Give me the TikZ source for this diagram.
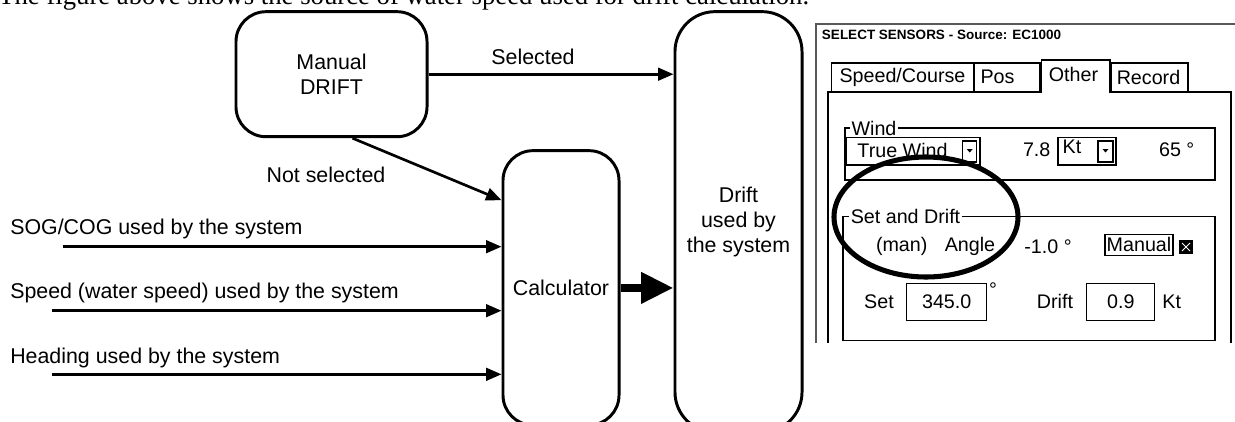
\documentclass[tikz,border=0pt]{standalone}
\usepackage{fontspec}
\setmainfont{Liberation Sans}
\newfontfamily\pagefont{Liberation Serif}
\usetikzlibrary{arrows.meta,positioning,calc}

\begin{document}
\begin{tikzpicture}[
    x=0.025cm,y=-0.025cm,font=\fontsize{15.2}{17.8}\selectfont,
    proc/.style={draw,line width=2.1pt,align=center,inner sep=0pt},
    arrow/.style={-{Triangle[length=11pt,width=9pt]},line width=1.9pt},
    bigarrow/.style={-{Triangle[length=23pt,width=21pt]},line width=5.7pt},
    lbl/.style={inner sep=0pt,anchor=west},
    gui/.style={inner sep=0pt,font=\fontsize{14}{16}\selectfont},
    ctl/.style={draw,line width=0.8pt},
    win/.style={draw=black!65,line width=1pt},
    hilite/.style={draw,line width=3.6pt}
  ]
    \useasboundingbox (0,0) rectangle (1235,421);

    \node[anchor=base west,inner sep=0pt,font=\pagefont\fontsize{19}{22}\selectfont] (caption) at (-2,5)
      {The figure above shows the source of water speed used for drift calculation.};

    \node[proc,rounded corners=0.75cm,minimum width=4.775cm,minimum height=3.125cm] (manual) at (331.5,74.2) {Manual\\DRIFT};
    \node[proc,rounded corners=0.75cm,minimum width=2.9cm,minimum height=6.86cm] (calc) at (561,287.9) {Calculator};
    \node[proc,rounded corners=1cm,minimum width=3.175cm,minimum height=10.51cm] (drift) at (738.5,221.9) {Drift\\used by\\the system};

    \node[inner sep=0pt] (sel) at (533,57.3) {Selected};
    \node[inner sep=0pt] (notsel) at (326,175) {Not selected};
    \node[lbl] (soglbl) at (10,229) {SOG/COG used by the system};
    \node[lbl] (spdlbl) at (10,293) {Speed (water speed) used by the system};
    \node[lbl] (hdglbl) at (10,358) {Heading used by the system};
    \coordinate (sog) at (63.3,246.7);
    \coordinate (spd) at (51.7,310.7);
    \coordinate (hdg) at (51.7,374.3);

    \draw[arrow] (manual.east) -- (manual.east -| drift.west);
    \draw[arrow] ($(manual.south)+(21,0)$) -- ($(calc.north west)+(0,51)$);
    \draw[arrow] (sog) -- (sog -| calc.west);
    \draw[arrow] (spd) -- (spd -| calc.west);
    \draw[arrow] (hdg) -- (hdg -| calc.west);
    \draw[bigarrow] (calc.east) -- (calc.east -| drift.west);

    \node[anchor=west,inner sep=0pt,font=\bfseries\fontsize{9.6}{11}\selectfont] (title) at (821.7,35) {SELECT SENSORS - Source: EC1000};
    \draw[win] (816,343) -- (816,24) -- (1240,24);
    \draw[ctl] (828,343) -- (828,92) -- (1041.7,92) -- (1041.7,60) -- (1110,60) -- (1110,92) -- (1231,92) -- (1231,343);
    \draw[ctl] (831.7,92) -- (831.7,63) -- (974,63) -- (974,92);
    \draw[ctl] (974,63) -- (1040,63) -- (1040,92);
    \draw[ctl] (1111,92) -- (1111,63) -- (1188,63) -- (1188,92);
    \node[gui] (tabspeed) at (902.5,77.3) {Speed/Course};
    \node[gui] (tabpos) at (997.5,77.3) {Pos};
    \node[gui] (tabother) at (1073.5,74) {Other};
    \node[gui] (tabrecord) at (1148.5,77.3) {Record};

    \draw[ctl] (845,128) rectangle (1215,180);
    \node[gui,fill=white,inner sep=1pt] (windlbl) at (874,128) {Wind};
    \draw[ctl] (846.7,137.3) rectangle (980,165);
    \draw[ctl] (962.7,141) rectangle (976.7,162);
    \fill (966.7,149) -- (972.7,149) -- (969.7,152.5) -- cycle;
    \node[gui] (windsrc) at (902.5,150) {True Wind};
    \node[gui] (windspd) at (1036.7,150) {7.8};
    \draw[ctl] (1058,137.3) rectangle (1116,165);
    \draw[ctl] (1098,141) rectangle (1113,162);
    \fill (1102.5,149) -- (1108.5,149) -- (1105.5,152.5) -- cycle;
    \node[gui] (windunit) at (1072,147) {Kt};
    \node[gui] (winddir) at (1176.7,150) {65 °};

    \draw[ctl] (843,216.7) rectangle (1215,340.7);
    \node[gui,fill=white,inner sep=1pt] (setlbl) at (905.5,216.7) {Set and Drift};
    \node[gui] (man) at (901.7,246.7) {(man)};
    \node[gui] (angle) at (970,246.7) {Angle};
    \node[gui] (angleval) at (1048,246.7) {-1.0 °};
    \node[gui,ctl,minimum width=1.7cm,minimum height=0.52cm] (manbtn) at (1139,244.7) {Manual};
    \fill (1179,240) rectangle (1193,254);
    \draw[white,line width=0.6pt] (1182,243) -- (1190,251) (1190,243) -- (1182,251);
    \node[gui] (setname) at (879,301.7) {Set};
    \node[gui,ctl,minimum width=2cm,minimum height=0.93cm] (setval) at (946.7,302) {345.0};
    \node[gui] (setdeg) at (993,290) {°};
    \node[gui] (driftname) at (1055,301.7) {Drift};
    \node[gui,ctl,minimum width=1.7cm,minimum height=0.93cm] (driftval) at (1120.8,302) {0.9};
    \node[gui] (driftunit) at (1171.7,301.7) {Kt};

    \draw[hilite] (926,217) ellipse [x radius=92,y radius=60];
  \end{tikzpicture}
\end{document}
